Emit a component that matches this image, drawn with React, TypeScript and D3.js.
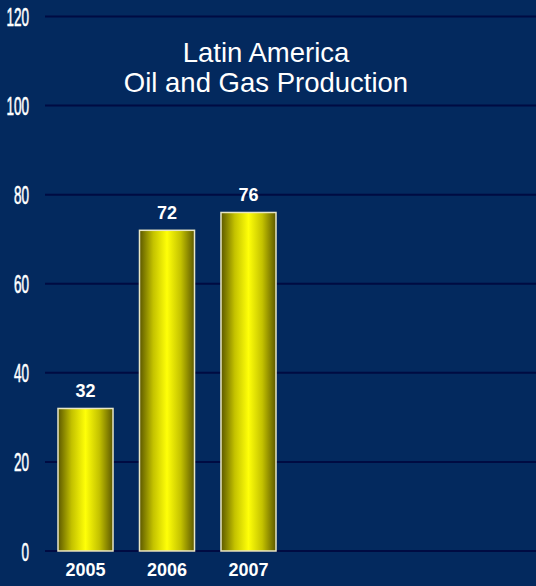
import React from "react";
import * as d3 from "d3";

const years = ["2005", "2006", "2007"];
const values = [32, 72, 76];
const yTicks = [0, 20, 40, 60, 80, 100, 120];
const titleLines = ["Latin America", "Oil and Gas Production"];

const W = 536;
const H = 586;

export default function App() {
  const y = d3.scaleLinear().domain([0, 120]).range([551, 16.5]);
  const x = d3.scaleBand<string>().domain(years).range([58, 276]).paddingInner(0.325).paddingOuter(0);

  return (
    <svg
      width={W}
      height={H}
      style={{ position: "fixed", left: 0, top: 0, display: "block" }}
      fontFamily="'Liberation Sans', Arial, sans-serif"
    >
      <defs>
        <linearGradient id="barGrad" x1="0" x2="1" y1="0" y2="0">
          <stop offset="0" stopColor="#5c5800" />
          <stop offset="0.25" stopColor="#c4c200" />
          <stop offset="0.5" stopColor="#ffff08" />
          <stop offset="0.75" stopColor="#c4c200" />
          <stop offset="1" stopColor="#5c5800" />
        </linearGradient>
      </defs>
      <rect x={0} y={0} width={W} height={H} fill="#03295e" />
      {yTicks.map((t) => (
        <g key={t}>
          <line x1={45} x2={W} y1={y(t)} y2={y(t)} stroke="#000b42" strokeWidth={2} />
          <text
            transform={`translate(29,${y(t) + 9.5}) scale(0.52,1)`}
            textAnchor="end"
            fill="#ffffff"
            fontSize={26}
            stroke="#ffffff"
            strokeWidth={0.6}
          >
            {t}
          </text>
        </g>
      ))}
      {titleLines.map((l, i) => (
        <text key={l} x={266} y={62 + i * 30} textAnchor="middle" fill="#ffffff" fontSize={27.5}>
          {l}
        </text>
      ))}
      {years.map((yr, i) => {
        const bx = x(yr)!;
        const bw = x.bandwidth();
        const top = y(values[i]);
        return (
          <g key={yr}>
            <rect
              x={bx}
              y={top}
              width={bw}
              height={y(0) - top}
              fill="url(#barGrad)"
              stroke="#e9e7c6"
              strokeWidth={1.5}
            />
            <text x={bx + bw / 2} y={top - 11} textAnchor="middle" fill="#ffffff" fontSize={18} fontWeight="bold">
              {values[i]}
            </text>
            <text x={bx + bw / 2} y={576} textAnchor="middle" fill="#ffffff" fontSize={18} fontWeight="bold">
              {yr}
            </text>
          </g>
        );
      })}
    </svg>
  );
}
